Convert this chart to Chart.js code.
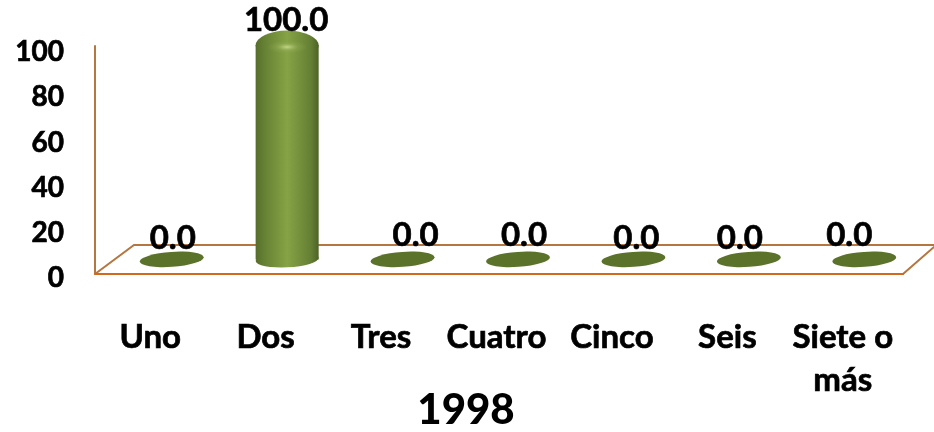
<!DOCTYPE html>
<html><head><meta charset="utf-8">
<style>html,body{margin:0;padding:0;background:#fff}#w{width:934px;height:432px;position:relative}canvas{display:block}</style>
<script src="https://cdn.jsdelivr.net/npm/chart.js@4"></script>
</head><body><div id="w"><canvas id="c" width="934" height="432"></canvas></div>
<script>
const categories = ['Uno','Dos','Tres','Cuatro','Cinco','Seis',['Siete o','más']];
const values = [0,100,0,0,0,0,0];
const tickValues = [0,20,40,60,80,100];
const chartTitle = '1998';

// small hand placement of the value labels, as in the source picture
const labelNudgeX = [1,-1,13,6,3,-9,-15];
const labelNudgeY = [-21,-25,-24,-24,-21,-21,-24];
const FONT = 'Lato, Carlito, sans-serif';
const BAR_PCT = 0.546;

function ell(ctx,x,y,rx,ry,rot,fill){ctx.beginPath();ctx.ellipse(x,y,rx,ry,rot,0,Math.PI*2);ctx.fillStyle=fill;ctx.fill();}
function sideGrad(ctx,x,hw){
  const g=ctx.createLinearGradient(x-hw,0,x+hw,0);
  g.addColorStop(0,'#566d2b');g.addColorStop(.12,'#647f33');g.addColorStop(.5,'#86a346');g.addColorStop(.88,'#647f33');g.addColorStop(1,'#4d6226');
  return g;
}
const scenery={id:'scenery',beforeDatasetsDraw(chart){
  const c=chart.ctx;c.save();c.lineCap='round';
  c.strokeStyle='#b5763f';c.lineWidth=2;
  c.beginPath();c.moveTo(95,46);c.lineTo(95,274);c.moveTo(95,274);c.lineTo(134,245);c.lineTo(934,245);c.moveTo(903,274);c.lineTo(934,247);c.stroke();
  c.strokeStyle='#d2691e';c.lineWidth=2;
  c.beginPath();c.moveTo(95,274);c.lineTo(903,274);c.stroke();
  const m=chart.getDatasetMeta(0);
  m.data.forEach((b,i)=>{
    const hw=b.width/2;
    if(values[i]>0){ell(c,b.x,b.base,hw,8,-0.05,sideGrad(c,b.x,hw));}
    else{ell(c,b.x,b.base,hw+.5,7.5,-0.07,'#5a7229');}
  });
  c.restore();
},afterDatasetsDraw(chart){
  const c=chart.ctx;c.save();
  const m=chart.getDatasetMeta(0);
  m.data.forEach((b,i)=>{
    const hw=b.width/2;
    if(values[i]>0){
      ell(c,b.x,b.y+0.5,hw,15,0,sideGrad(c,b.x,hw));
      c.save();c.translate(b.x,b.y+2);c.scale(1,.35);
      const g=c.createRadialGradient(0,0,1,0,0,20);
      g.addColorStop(0,'rgba(190,212,130,.95)');g.addColorStop(.5,'rgba(150,175,90,.4)');g.addColorStop(1,'rgba(134,163,70,0)');
      ell(c,0,0,20,20,0,g);c.restore();
    }
  });
  c.fillStyle='#000';c.strokeStyle='#000';c.lineWidth=.7;c.textAlign='center';c.textBaseline='middle';c.font='bold 33px '+FONT;
  m.data.forEach((b,i)=>{
    const t=values[i].toFixed(1),x=b.x+labelNudgeX[i],y=(values[i]>0?b.y:b.base)+labelNudgeY[i];
    c.fillText(t,x,y);c.strokeText(t,x,y);
  });
  c.restore();
}};
new Chart(document.getElementById('c'),{
  type:'bar',
  data:{labels:categories,datasets:[{data:values,yAxisID:'y',xAxisID:'x',categoryPercentage:1,barPercentage:BAR_PCT,
    backgroundColor(ctx){
      const s=ctx.chart.scales.x;
      if(!s||!ctx.chart.chartArea)return '#86a346';
      return sideGrad(ctx.chart.ctx,s.getPixelForValue(ctx.dataIndex),s.width/categories.length*BAR_PCT/2);
    }}]},
  plugins:[scenery],
  options:{responsive:false,animation:false,devicePixelRatio:1,
    layout:{padding:{top:30,right:12,left:10,bottom:0}},
    plugins:{legend:{display:false},tooltip:{enabled:false},
      title:{display:true,position:'bottom',text:chartTitle,color:'#000',font:{family:FONT,size:42,weight:900,lineHeight:1.2},padding:{top:-47,bottom:-4}}},
    scales:{
      x:{type:'category',grid:{display:false},border:{display:false},
        afterFit(s){s.height=155.6;s.paddingLeft=0;s.paddingRight=0;},
        ticks:{color:'#000',font:{family:FONT,size:33,weight:'bold',lineHeight:1.3},textStrokeColor:'#000',textStrokeWidth:.7,padding:32,labelOffset:-21.5,maxRotation:0,autoSkip:false}},
      y:{display:false,position:'left',min:-7.94,max:107},
      yLabels:{position:'left',min:0.885,max:109.735,grid:{display:false},border:{display:false},
        afterFit(s){s.width=104;s.paddingTop=0;s.paddingBottom=0;},
        afterBuildTicks(s){s.ticks=tickValues.map(v=>({value:v}));},
        ticks:{color:'#000',font:{family:FONT,size:28,weight:'bold'},textStrokeColor:'#000',textStrokeWidth:.7,padding:42}}
    }}
});
</script></body></html>
